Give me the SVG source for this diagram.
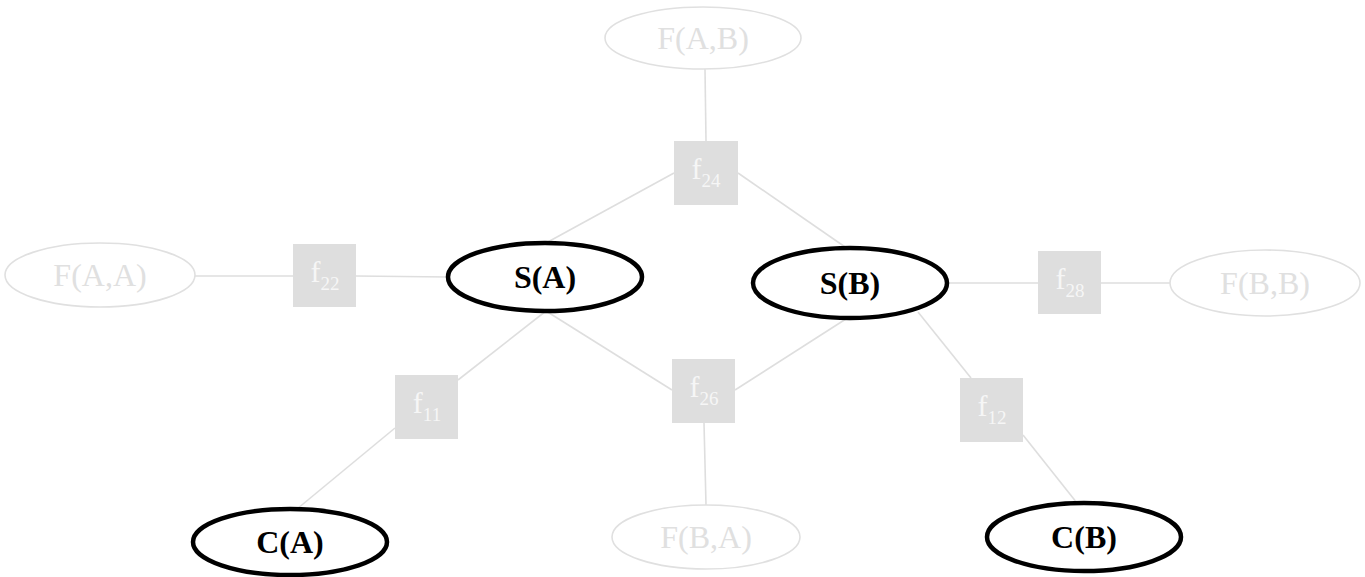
<svg xmlns="http://www.w3.org/2000/svg" width="1365" height="577" viewBox="0 0 1365 577">
  <style>
    .edge { stroke: #dedede; stroke-width: 1.6; fill: none; }
    .faint ellipse { fill: #ffffff; stroke: #e0e0e0; stroke-width: 1.6; }
    .faint text { fill: #e0e0e0; font-family: "Liberation Serif", "Times New Roman", serif; font-size: 32px; text-anchor: middle; }
    .main ellipse { fill: #ffffff; stroke: #000000; stroke-width: 4.5; }
    .main text { fill: #000000; font-family: "Liberation Serif", "Times New Roman", serif; font-size: 32px; font-weight: bold; text-anchor: middle; }
    .factor rect { fill: #dedede; stroke: none; }
    .factor text { fill: #f6f6f6; font-family: "Liberation Serif", "Times New Roman", serif; font-size: 30px; text-anchor: middle; }
    .factor tspan.sub { font-size: 19px; }
  </style>

  <!-- connectors -->
  <g id="edges">
    <line class="edge" x1="705" y1="69" x2="706" y2="141"/>
    <line class="edge" x1="674" y1="173" x2="546" y2="243"/>
    <line class="edge" x1="738" y1="173" x2="848" y2="249"/>
    <line class="edge" x1="195" y1="276" x2="293" y2="276"/>
    <line class="edge" x1="356" y1="276" x2="448" y2="277"/>
    <line class="edge" x1="546" y1="311" x2="458" y2="380"/>
    <line class="edge" x1="395" y1="428" x2="297" y2="509"/>
    <line class="edge" x1="546" y1="311" x2="672" y2="390"/>
    <line class="edge" x1="849" y1="317" x2="735" y2="390"/>
    <line class="edge" x1="704" y1="423" x2="706" y2="505"/>
    <line class="edge" x1="948" y1="283" x2="1038" y2="283"/>
    <line class="edge" x1="1101" y1="283" x2="1171" y2="283"/>
    <line class="edge" x1="918" y1="312" x2="971" y2="378"/>
    <line class="edge" x1="1023" y1="435" x2="1077" y2="503"/>
  </g>

  <!-- variable nodes -->
  <g id="F_A_B" class="faint">
    <ellipse cx="703" cy="38" rx="98" ry="31"/>
    <text x="703" y="49">F(A,B)</text>
  </g>
  <g id="F_A_A" class="faint">
    <ellipse cx="100" cy="275" rx="95" ry="32"/>
    <text x="100" y="286">F(A,A)</text>
  </g>
  <g id="F_B_B" class="faint">
    <ellipse cx="1265" cy="283" rx="95" ry="33"/>
    <text x="1265" y="294">F(B,B)</text>
  </g>
  <g id="F_B_A" class="faint">
    <ellipse cx="706" cy="537" rx="94" ry="32"/>
    <text x="706" y="548">F(B,A)</text>
  </g>
  <g id="S_A" class="main">
    <ellipse cx="545" cy="277" rx="97" ry="34"/>
    <text x="545" y="288">S(A)</text>
  </g>
  <g id="S_B" class="main">
    <ellipse cx="850" cy="283" rx="97" ry="35"/>
    <text x="850" y="294">S(B)</text>
  </g>
  <g id="C_A" class="main">
    <ellipse cx="290" cy="542" rx="97" ry="33"/>
    <text x="290" y="553">C(A)</text>
  </g>
  <g id="C_B" class="main">
    <ellipse cx="1084" cy="537" rx="97" ry="34"/>
    <text x="1084" y="548">C(B)</text>
  </g>

  <!-- factor nodes -->
  <g id="f24" class="factor">
    <rect x="674" y="141" width="64" height="64"/>
    <text x="706" y="179">f<tspan class="sub" dy="8">24</tspan></text>
  </g>
  <g id="f22" class="factor">
    <rect x="293" y="244" width="63" height="63"/>
    <text x="325" y="282">f<tspan class="sub" dy="8">22</tspan></text>
  </g>
  <g id="f28" class="factor">
    <rect x="1038" y="251" width="63" height="63"/>
    <text x="1070" y="289">f<tspan class="sub" dy="8">28</tspan></text>
  </g>
  <g id="f11" class="factor">
    <rect x="395" y="375" width="63" height="64"/>
    <text x="427" y="413">f<tspan class="sub" dy="8">11</tspan></text>
  </g>
  <g id="f26" class="factor">
    <rect x="672" y="359" width="63" height="64"/>
    <text x="704" y="397">f<tspan class="sub" dy="8">26</tspan></text>
  </g>
  <g id="f12" class="factor">
    <rect x="960" y="378" width="63" height="64"/>
    <text x="992" y="416">f<tspan class="sub" dy="8">12</tspan></text>
  </g>
</svg>
